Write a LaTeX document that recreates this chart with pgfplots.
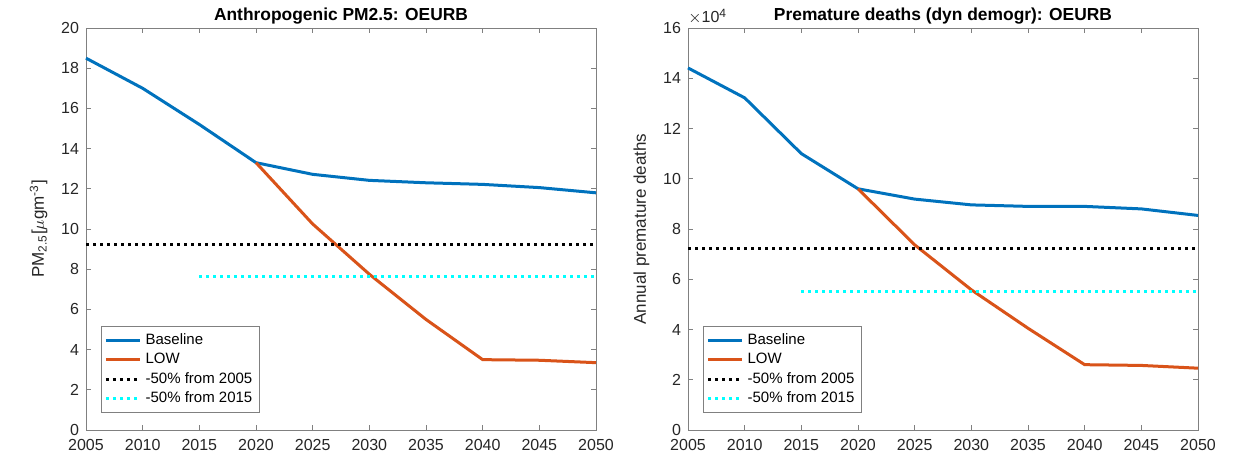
\documentclass[border=0pt]{standalone}
\usepackage{fontspec}
\setmainfont{Liberation Sans}
\usepackage{pgfplots}
\pgfplotsset{compat=1.18}
\definecolor{mblue}{RGB}{0,114,189}
\definecolor{morange}{RGB}{217,83,25}
\definecolor{mcyan}{RGB}{0,255,255}
\definecolor{axgray}{RGB}{128,128,128}
\definecolor{txtgray}{RGB}{38,38,38}
\pgfplotsset{mystyle/.style={
  scale only axis, width=255pt, height=201pt,
  xmin=2005, xmax=2050, xtick={2005,2010,...,2050},
  tick align=inside, xtick pos=both, ytick pos=both,
  major tick length=2.5pt,
  axis line style={axgray, line width=0.5pt},
  tick style={axgray, line width=0.5pt},
  tick label style={font=\fontsize{8}{9}\selectfont, text=txtgray},
  xticklabel style={yshift=-1.2pt},
  label style={font=\fontsize{8.5}{10}\selectfont, text=txtgray},
  /pgf/number format/assume math mode=true,
  /pgf/number format/1000 sep={},
  legend style={font=\fontsize{7.5}{9.5}\selectfont, draw=axgray, line width=0.5pt,
    at={(15/510,17/402)}, anchor=south west, inner sep=1.5pt, row sep=-1.2pt},
  legend cell align=left,
  clip=false,
}}
\begin{document}
\begin{tikzpicture}
\useasboundingbox (0,0) rectangle (618pt,228pt);
\begin{axis}[mystyle, at={(43pt,13pt)}, anchor=south west,
  ymin=0, ymax=20, ytick={0,2,...,20},
  ylabel={PM\textsubscript{2.5}[$\mu$gm\textsuperscript{-3}]}]
\addplot[mblue, line width=1.5pt] coordinates {(2005,18.5) (2010,17.0) (2015,15.2) (2020,13.3) (2025,12.72) (2030,12.42) (2035,12.3) (2040,12.22) (2045,12.06) (2050,11.8)};
\addlegendentry{Baseline}
\addplot[morange, line width=1.5pt] coordinates {(2020,13.3) (2025,10.25) (2030,7.75) (2035,5.5) (2040,3.5) (2045,3.47) (2050,3.35)};
\addlegendentry{LOW}
\addplot[black, line width=1.5pt, dotted] coordinates {(2005,9.25) (2050,9.25)};
\addlegendentry{-50\% from 2005}
\addplot[mcyan, line width=1.5pt, dotted] coordinates {(2015,7.63) (2050,7.63)};
\addlegendentry{-50\% from 2015}
\node[anchor=base, inner sep=0pt, yshift=4pt, font=\bfseries\fontsize{8.7}{10}\selectfont] at (rel axis cs:0.5,1) {Anthropogenic PM2.5: OEURB};
\end{axis}
\begin{axis}[mystyle, at={(344pt,13pt)}, anchor=south west,
  ymin=0, ymax=16, ytick={0,2,...,16},
  ylabel={Annual premature deaths}]
\addplot[mblue, line width=1.5pt] coordinates {(2005,14.41) (2010,13.22) (2015,11.0) (2020,9.6) (2025,9.19) (2030,8.96) (2035,8.9) (2040,8.9) (2045,8.8) (2050,8.54)};
\addlegendentry{Baseline}
\addplot[morange, line width=1.5pt] coordinates {(2020,9.6) (2025,7.37) (2030,5.58) (2035,4.05) (2040,2.6) (2045,2.57) (2050,2.46)};
\addlegendentry{LOW}
\addplot[black, line width=1.5pt, dotted] coordinates {(2005,7.22) (2050,7.22)};
\addlegendentry{-50\% from 2005}
\addplot[mcyan, line width=1.5pt, dotted] coordinates {(2015,5.5) (2050,5.5)};
\addlegendentry{-50\% from 2015}
\node[anchor=south west, inner sep=0pt, yshift=1.5pt, font=\fontsize{8}{9}\selectfont, text=txtgray] at (rel axis cs:0,1) {$\times$10\textsuperscript{4}};
\node[anchor=base, inner sep=0pt, yshift=4pt, font=\bfseries\fontsize{8.7}{10}\selectfont] at (rel axis cs:0.5,1) {Premature deaths (dyn demogr): OEURB};
\end{axis}
\end{tikzpicture}
\end{document}
